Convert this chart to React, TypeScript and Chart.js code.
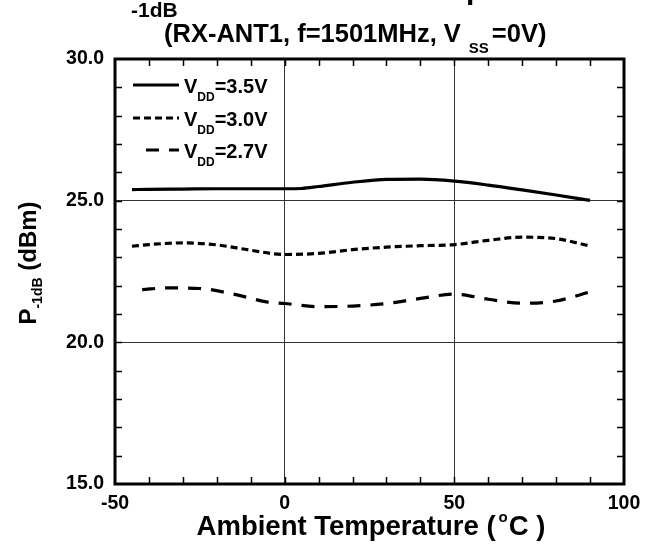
import { useEffect, useRef } from "react";
import { Chart, registerables } from "chart.js";

Chart.register(...registerables);

// ---- data ----
const temps35 = [-45, -40, -30, -20, -10, 0, 5, 10, 20, 30, 40, 50, 60, 70, 80, 90];
const vals35 = [25.39, 25.4, 25.41, 25.42, 25.42, 25.42, 25.43, 25.5, 25.65, 25.75, 25.76, 25.69, 25.55, 25.38, 25.2, 25.01];

const temps30 = [-45, -40, -30, -20, -10, 0, 10, 20, 30, 40, 50, 60, 70, 80, 90];
const vals30 = [23.39, 23.45, 23.51, 23.44, 23.25, 23.1, 23.14, 23.27, 23.36, 23.41, 23.45, 23.6, 23.71, 23.66, 23.4];

const temps27 = [-42, -35, -25, -15, -5, 0, 10, 20, 30, 40, 50, 60, 70, 80, 90];
const vals27 = [21.86, 21.92, 21.9, 21.7, 21.42, 21.37, 21.26, 21.28, 21.37, 21.55, 21.7, 21.52, 21.38, 21.46, 21.78];

const seriesMain = ["V", "V", "V"];
const seriesSub = ["DD", "DD", "DD"];
const seriesRest = ["=3.5V", "=3.0V", "=2.7V"];

const xMin = -50;
const xMax = 100;
const xStep = 50;
const xMinorStep = 10;
const yMin = 15;
const yMax = 30;
const yStep = 5;
const yMinorStep = 1;

const FONT = "'Liberation Sans', Arial, sans-serif";

type Part = { t: string; size: number; dy?: number; gap?: number };

function drawParts(ctx: CanvasRenderingContext2D, x: number, y: number, parts: Part[], align: "left" | "center" = "left") {
  ctx.textAlign = "left";
  ctx.textBaseline = "alphabetic";
  const widths = parts.map((p) => {
    ctx.font = `bold ${p.size}px ${FONT}`;
    return ctx.measureText(p.t).width + (p.gap || 0);
  });
  const total = widths.reduce((a, b) => a + b, 0);
  let cx = align === "center" ? x - total / 2 : x;
  parts.forEach((p, i) => {
    ctx.font = `bold ${p.size}px ${FONT}`;
    ctx.fillText(p.t, cx + (p.gap || 0), y + (p.dy || 0));
    cx += widths[i];
  });
}

const decorPlugin = {
  id: "decor",
  afterDraw(chart: any) {
    const { ctx, chartArea } = chart;
    const xs = chart.scales.x;
    const ys = chart.scales.y;
    const { left, right, top, bottom } = chartArea;
    ctx.save();
    ctx.fillStyle = "#000";
    ctx.strokeStyle = "#000";

    // minor ticks
    ctx.lineWidth = 1.5;
    ctx.beginPath();
    for (let v = xMin + xMinorStep; v < xMax; v += xMinorStep) {
      const px = Math.round(xs.getPixelForValue(v)) + 0.5;
      ctx.moveTo(px, top);
      ctx.lineTo(px, top + 7);
      ctx.moveTo(px, bottom);
      ctx.lineTo(px, bottom - 7);
    }
    for (let v = yMin + yMinorStep; v < yMax; v += yMinorStep) {
      const py = Math.round(ys.getPixelForValue(v)) + 0.5;
      ctx.moveTo(left, py);
      ctx.lineTo(left + 7, py);
      ctx.moveTo(right, py);
      ctx.lineTo(right - 7, py);
    }
    ctx.stroke();

    // frame
    ctx.lineWidth = 3;
    ctx.strokeRect(left, top, right - left, bottom - top);

    // legend
    const rows = [85, 118, 150];
    const starts = [133, 133, 146];
    chart.data.datasets.forEach((ds: any, i: number) => {
      const y = rows[i];
      ctx.save();
      ctx.lineWidth = 3;
      ctx.setLineDash(ds.borderDash || []);
      ctx.beginPath();
      ctx.moveTo(starts[i], y);
      ctx.lineTo(179, y);
      ctx.stroke();
      ctx.restore();
      drawParts(ctx, 184, y + 8, [
        { t: seriesMain[i], size: 20 },
        { t: seriesSub[i], size: 12, dy: 8 },
        { t: seriesRest[i], size: 20 },
      ]);
    });

    // title (first line mostly above the canvas)
    ctx.font = `bold 30px ${FONT}`;
    const wTem = ctx.measureText("Tem").width;
    ctx.fillText("Temperature", 466 - wTem, -1);
    ctx.font = `bold 21px ${FONT}`;
    ctx.fillText("-1dB", 131, 17);

    drawParts(ctx, 164, 42, [
      { t: "(RX-ANT1, f=1501MHz, V", size: 25.5 },
      { t: "SS", size: 15, dy: 11, gap: 8 },
      { t: "=0V)", size: 25.5, gap: 3 },
    ]);

    // x axis title
    drawParts(ctx, 371, 535, [
      { t: "Ambient Temperature (", size: 27.5 },
      { t: "o", size: 15, dy: -13, gap: 3 },
      { t: "C )", size: 27.5, gap: 1 },
    ], "center");

    // y axis title
    ctx.save();
    ctx.translate(36, 263);
    ctx.rotate(-Math.PI / 2);
    drawParts(ctx, 0, 0, [
      { t: "P", size: 24 },
      { t: "-1dB", size: 14, dy: 6 },
      { t: " (dBm)", size: 24 },
    ], "center");
    ctx.restore();

    ctx.restore();
  },
};

export default function App() {
  const ref = useRef<HTMLCanvasElement | null>(null);
  useEffect(() => {
    if (!ref.current) return;
    document.body.style.margin = "0";
    const mk = (t: number[], v: number[]) => t.map((x, i) => ({ x, y: v[i] }));
    const chart = new Chart(ref.current, {
      type: "line",
      data: {
        datasets: [
          { label: "VDD=3.5V", data: mk(temps35, vals35), borderColor: "#000", borderWidth: 3.2, pointRadius: 0, tension: 0.4, cubicInterpolationMode: "monotone", borderDash: [] },
          { label: "VDD=3.0V", data: mk(temps30, vals30), borderColor: "#000", borderWidth: 3.2, pointRadius: 0, tension: 0.4, cubicInterpolationMode: "monotone", borderDash: [7, 4] },
          { label: "VDD=2.7V", data: mk(temps27, vals27), borderColor: "#000", borderWidth: 3.2, pointRadius: 0, tension: 0.4, cubicInterpolationMode: "monotone", borderDash: [13, 10] },
        ],
      } as any,
      options: {
        animation: false,
        responsive: false,
        devicePixelRatio: 1,
        layout: { padding: { left: 0, top: 59, right: 33, bottom: 0 } },
        plugins: { legend: { display: false }, tooltip: { enabled: false }, title: { display: false } },
        scales: {
          x: {
            type: "linear",
            min: xMin,
            max: xMax,
            ticks: { stepSize: xStep, color: "#000", font: { family: FONT, size: 19.5, weight: "bold" }, padding: 8 },
            grid: { color: "#333", lineWidth: 1, drawTicks: false },
            border: { display: false },
            afterFit: (s: any) => { s.height = 61; },
          },
          y: {
            type: "linear",
            min: yMin,
            max: yMax,
            ticks: { stepSize: yStep, color: "#000", font: { family: FONT, size: 19.5, weight: "bold" }, padding: 11, callback: (v: any) => Number(v).toFixed(1) },
            grid: { color: "#333", lineWidth: 1, drawTicks: false },
            border: { display: false },
            afterFit: (s: any) => { s.width = 115; },
          },
        },
      } as any,
      plugins: [decorPlugin],
    });
    return () => chart.destroy();
  }, []);
  return (
    <div style={{ position: "absolute", left: 0, top: 0, width: 657, height: 545 }}>
      <canvas ref={ref} width={657} height={545} style={{ display: "block" }} />
    </div>
  );
}
